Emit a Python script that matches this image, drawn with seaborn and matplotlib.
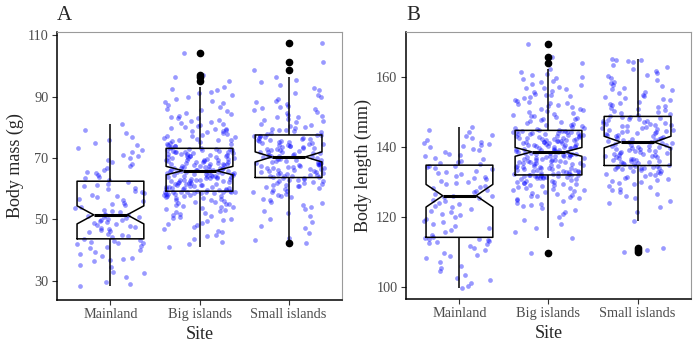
import numpy as np
import pandas as pd
import matplotlib
matplotlib.use("Agg")
import matplotlib.pyplot as plt
import seaborn as sns

sites = ["Mainland", "Big islands", "Small islands"]

mass_mainland = [
    28.4, 28.9, 29.8, 31.2, 32.5, 33.0, 34.6, 35.2, 36.5, 36.8, 37.1, 37.4, 38.0,
    38.9, 39.5, 40.1, 40.6, 41.0, 41.3, 41.9, 42.2, 42.5, 42.8, 43.1, 43.4,
    43.8, 44.3, 44.6, 45.0, 45.4, 45.9, 46.2, 46.6, 47.0, 47.3, 47.5, 47.9, 48.2,
    48.5, 48.8, 49.1, 49.4, 49.7, 49.9, 50.2, 50.5, 50.7, 50.9, 51.2, 51.4,
    51.6, 51.9, 52.3, 52.8, 53.2, 53.7, 54.1, 54.6, 55.0, 55.5, 55.9, 56.3, 56.8,
    57.2, 57.7, 58.1, 58.6, 59.0, 59.4, 59.9, 60.3, 60.8, 61.2, 61.7, 62.3,
    62.9, 63.4, 63.8, 64.5, 65.1, 65.6, 66.2, 66.9, 67.5, 68.0, 68.6, 69.2, 69.9,
    70.5, 71.1, 71.8, 72.6, 73.3, 74.1, 74.9, 75.8, 76.7, 78.2, 79.0, 81.0,
]
mass_big = [
    41.2, 41.9, 42.8, 43.6, 44.5, 45.1, 45.9, 46.4, 47.0, 47.6, 48.1, 48.6, 49.0,
    49.4, 49.8, 50.2, 50.5, 50.9, 51.2, 51.6, 51.9, 52.2, 52.5, 52.8, 53.1, 53.3,
    53.6, 53.9, 54.1, 54.4, 54.6, 54.9, 55.1, 55.4, 55.6, 55.8, 56.1, 56.3, 56.5,
    56.7, 56.9, 57.1, 57.3, 57.5, 57.6, 57.8, 57.9, 58.1, 58.2, 58.3, 58.4, 58.5,
    58.6, 58.7, 58.8, 58.9, 58.9, 59.0, 59.0, 59.1, 59.1, 59.1, 59.15,
    59.35, 59.5, 59.6, 59.7, 59.8, 59.9, 60.0, 60.1, 60.3, 60.4, 60.5, 60.6, 60.7,
    60.9, 61.0, 61.1, 61.2, 61.3, 61.4, 61.6, 61.7, 61.8, 61.9, 62.0, 62.1, 62.3,
    62.4, 62.5, 62.6, 62.7, 62.8, 62.9, 63.0, 63.1, 63.2, 63.4, 63.5, 63.6, 63.7,
    63.8, 63.9, 64.0, 64.1, 64.2, 64.3, 64.4, 64.5, 64.6, 64.7, 64.8, 64.9, 65.0,
    65.1, 65.2, 65.3, 65.4, 65.5, 65.6, 65.7, 65.75, 65.8, 65.85,
    65.95, 66.0, 66.1, 66.2, 66.4, 66.5, 66.6, 66.7, 66.8, 66.9, 67.0, 67.2, 67.3,
    67.4, 67.5, 67.6, 67.7, 67.9, 68.0, 68.1, 68.2, 68.3, 68.5, 68.6, 68.7, 68.8,
    68.9, 69.0, 69.2, 69.3, 69.4, 69.5, 69.6, 69.8, 69.9, 70.0, 70.1, 70.2, 70.4,
    70.5, 70.6, 70.7, 70.8, 71.0, 71.1, 71.2, 71.3, 71.4, 71.6, 71.7, 71.8, 71.9,
    72.0, 72.1, 72.3, 72.4, 72.5, 72.6, 72.7, 72.8, 72.9, 73.0,
    73.2, 73.4, 73.6, 73.8, 74.0, 74.2, 74.5, 74.7, 74.9, 75.2, 75.4, 75.7, 75.9,
    76.0, 76.2, 76.4, 76.7, 77.0, 77.2, 77.5, 77.8, 78.1, 78.4, 78.7, 78.9, 79.0,
    79.3, 79.6, 79.9, 80.0, 80.3, 80.6, 81.0, 81.3, 81.7, 82.1, 82.5, 82.9, 83.0,
    83.3, 83.7, 84.2, 84.7, 85.2, 85.6, 86.1, 86.6, 87.2, 87.8, 88.1, 88.6, 89.2,
    89.9, 90.4, 91.0, 91.6, 92.2, 92.6, 93.0, 95.2, 96.3, 97.1, 104.1,
]
mass_small = [
    42.4, 43.2, 44.0, 45.5, 47.1, 48.0, 49.2, 50.3, 51.1, 52.0, 52.8, 53.5, 54.1,
    54.7, 55.2, 55.8, 56.3, 56.7, 57.2, 57.6, 58.0, 58.4, 58.8, 59.1, 59.4, 59.7,
    60.0, 60.3, 60.6, 60.8, 60.9, 61.1, 61.3, 61.6, 61.8, 62.0, 62.2, 62.4, 62.6,
    62.8, 63.0, 63.2, 63.4, 63.6,
    63.7, 63.9, 64.0, 64.2, 64.3, 64.5, 64.6, 64.8, 64.9, 65.1, 65.2, 65.4, 65.5,
    65.7, 65.8, 66.0, 66.1, 66.3, 66.4, 66.6, 66.7, 66.9, 67.0, 67.2, 67.3, 67.5,
    67.6, 67.8, 67.9, 68.1, 68.2, 68.4, 68.5, 68.7, 68.8, 69.0, 69.1, 69.3, 69.4,
    69.6, 69.8, 70.0, 70.2, 70.35,
    70.5, 70.6, 70.8, 71.0, 71.1, 71.3, 71.5, 71.6, 71.8, 72.0, 72.1, 72.3, 72.5,
    72.6, 72.8, 73.0, 73.1, 73.3, 73.5, 73.6, 73.8, 74.0, 74.1, 74.3, 74.5, 74.6,
    74.8, 75.0, 75.1, 75.3, 75.5, 75.6, 75.8, 76.0, 76.1, 76.3, 76.5, 76.6, 76.8,
    77.0, 77.1, 77.3, 77.4,
    77.6, 77.9, 78.2, 78.5, 78.8, 79.0, 79.1, 79.4, 79.7, 80.0, 80.4, 80.8, 81.2,
    81.6, 82.0, 82.4, 82.8, 83.2, 83.5, 83.7, 84.1, 84.6, 85.0, 85.5, 86.0, 86.2,
    86.5, 87.0, 87.6, 88.2, 88.7, 89.3, 89.9, 90.5, 91.2, 92.0, 92.8, 93.7, 94.6,
    95.5, 96.2, 98.65, 101.35, 107.3,
]
length_mainland = [
    99.6, 100.3, 101.0, 101.9, 102.5, 103.3, 104.6, 105.5, 106.0, 107.1, 108.2,
    108.7, 109.0, 109.8, 110.6, 111.2, 111.8, 112.1, 112.4, 112.9, 113.1, 113.4,
    113.6, 113.8, 114.0,
    114.2, 114.9, 115.6, 116.2, 116.8, 117.3, 117.9, 118.4, 118.9, 119.4, 119.9,
    120.4, 120.9, 121.3, 121.8, 122.3, 122.7, 123.2, 123.6, 124.1, 124.5, 124.9,
    125.3, 125.7, 126.0,
    126.1, 126.6, 127.0, 127.4, 127.8, 128.2, 128.5, 128.9, 129.3, 129.6, 130.0,
    130.4, 130.7, 131.1, 131.5, 131.8, 132.2, 132.5, 132.9, 133.2, 133.6, 133.9,
    134.2, 134.5, 134.7,
    135.1, 135.4, 135.7, 136.1, 136.5, 136.9, 137.3, 137.7, 138.1, 138.6, 139.0,
    139.4, 139.9, 140.3, 140.6, 140.9, 141.2, 141.5, 142.0, 142.6, 143.1, 143.5,
    144.2, 144.9, 145.6,
]
length_big = [
    109.55, 113.85, 115.8, 116.7, 117.9, 119.2, 120.1, 120.9, 121.5, 122.0, 122.5,
    123.0, 123.4, 123.8, 124.1, 124.4, 124.7, 125.0, 125.3, 125.6, 125.9, 126.1,
    126.4, 126.6, 126.9, 127.1, 127.3, 127.6, 127.8, 128.0, 128.2, 128.4, 128.6,
    128.8, 129.0, 129.2, 129.3, 129.5, 129.7, 129.8, 130.0, 130.1, 130.3, 130.4,
    130.6, 130.7, 130.8, 131.0, 131.1, 131.2, 131.3, 131.4, 131.5, 131.6, 131.65,
    131.7, 131.75, 131.8, 131.85, 131.9, 131.9, 131.95, 131.95,
    132.15, 132.3, 132.4, 132.5, 132.6, 132.7, 132.8, 132.9, 133.0, 133.1, 133.2,
    133.3, 133.4, 133.5, 133.6, 133.8, 133.9, 134.0, 134.1, 134.2, 134.3, 134.4,
    134.5, 134.6, 134.7, 134.8, 134.9, 135.0, 135.1, 135.3, 135.4, 135.5, 135.6,
    135.7, 135.8, 135.9, 136.0, 136.1, 136.2, 136.3, 136.4, 136.5, 136.6, 136.8,
    136.9, 137.0, 137.1, 137.2, 137.3, 137.4, 137.5, 137.6, 137.7, 137.8, 137.9,
    138.0, 138.1, 138.2, 138.3, 138.4, 138.5, 138.55,
    138.65, 138.8, 138.9, 139.0, 139.1, 139.2, 139.3, 139.4, 139.5, 139.6, 139.7,
    139.8, 139.9, 140.0, 140.1, 140.2, 140.3, 140.4, 140.5, 140.6, 140.7, 140.8,
    140.9, 141.0, 141.1, 141.2, 141.3, 141.4, 141.5, 141.6, 141.7, 141.8, 141.9,
    142.0, 142.1, 142.2, 142.3, 142.4, 142.5, 142.6, 142.7, 142.8, 142.9, 143.0,
    143.1, 143.2, 143.3, 143.4, 143.5, 143.6, 143.7, 143.8, 143.9, 144.0, 144.1,
    144.2, 144.3, 144.4, 144.45, 144.5, 144.55, 144.6,
    144.8, 145.0, 145.1, 145.3, 145.5, 145.8, 146.0, 146.2, 146.3, 146.6, 146.8,
    147.1, 147.4, 147.7, 147.9, 148.0, 148.3, 148.6, 148.9, 149.0, 149.2, 149.5,
    149.8, 150.1, 150.4, 150.7, 150.9, 151.0, 151.3, 151.6, 151.9, 152.2, 152.5,
    152.7, 152.9, 153.2, 153.5, 153.9, 154.2, 154.6, 154.8, 155.0, 155.3, 155.7,
    156.1, 156.5, 156.9, 157.0, 157.3, 157.7, 158.1, 158.6, 159.0, 159.5, 159.8,
    160.0, 160.5, 161.0, 161.5, 162.3, 164.0, 165.8, 169.6,
]
length_small = [
    110.0, 110.6, 111.2, 118.9, 121.5, 122.8, 123.9, 124.6, 125.3, 126.0, 126.6,
    127.1, 127.6, 128.1, 128.5, 128.9, 129.3, 129.6, 130.0, 130.3, 130.6, 130.9,
    131.2, 131.4, 131.7, 131.9, 132.2, 132.4, 132.6, 132.8, 133.0, 133.2, 133.4,
    133.6, 133.7, 133.9, 134.0, 134.1, 134.2, 134.3, 134.4, 134.5, 134.55, 134.6,
    134.8, 135.0, 135.2, 135.3, 135.5, 135.6, 135.8, 135.9, 136.1, 136.2, 136.4,
    136.5, 136.7, 136.8, 137.0, 137.1, 137.3, 137.4, 137.6, 137.7, 137.9, 138.0,
    138.2, 138.3, 138.5, 138.6, 138.8, 138.9, 139.1, 139.2, 139.4, 139.5, 139.7,
    139.8, 140.0, 140.1, 140.3, 140.4, 140.6, 140.7, 140.9, 141.0, 141.2, 141.4,
    141.5, 141.7, 141.9, 142.0, 142.2, 142.4, 142.5, 142.7, 142.9, 143.0, 143.2,
    143.4, 143.5, 143.7, 143.9, 144.0, 144.2, 144.4, 144.5, 144.7, 144.9, 145.0,
    145.2, 145.4, 145.5, 145.7, 145.9, 146.0, 146.2, 146.4, 146.5, 146.7, 146.9,
    147.0, 147.2, 147.4, 147.5, 147.7, 147.9, 148.1, 148.3, 148.5, 148.7,
    148.8, 149.1, 149.4, 149.7, 150.0, 150.3, 150.6, 150.9, 151.2, 151.5, 151.8,
    152.1, 152.4, 152.7, 153.0, 153.3, 153.6, 153.9, 154.2, 154.6, 155.0, 155.4,
    155.8, 156.2, 156.6, 157.0, 157.4, 157.8, 158.2, 158.7, 159.2, 159.7, 160.2,
    160.7, 161.2, 161.8, 162.4, 163.0, 163.6, 164.2, 164.6, 164.9, 165.0, 165.15,
]

mass_ticks = [30, 50, 70, 90, 110]
length_ticks = [100, 120, 140, 160]
panel_labels = ["A", "B"]
y_titles = ["Body mass (g)", "Body length (mm)"]
x_title = "Site"

sns.set_style("white")
plt.rcParams["font.family"] = ["Liberation Serif", "DejaVu Serif"]


def long_df(groups, name):
    rows = []
    for site, vals in zip(sites, groups):
        for v in vals:
            rows.append((site, v))
    return pd.DataFrame(rows, columns=["Site", name])


mass_df = long_df([mass_mainland, mass_big, mass_small], "mass")
length_df = long_df([length_mainland, length_big, length_small], "length")

fig = plt.figure(figsize=(6.98, 3.5), dpi=100)
axA = fig.add_axes([57 / 698, 50 / 350, 285 / 698, 268 / 350])
axB = fig.add_axes([406 / 698, 51 / 350, 285 / 698, 267 / 350])

np.random.seed(7)
panels = [
    (axA, mass_df, "mass", mass_ticks, (23.8, 111.0), y_titles[0], panel_labels[0], 57),
    (axB, length_df, "length", length_ticks, (96.5, 172.9), y_titles[1], panel_labels[1], 406),
]
for ax, df, col, ticks, ylim, ytitle, plabel, lx in panels:
    sns.stripplot(data=df, x="Site", y=col, order=sites, ax=ax, color="#0000FF",
                  alpha=0.4, size=3.4, jitter=0.4, linewidth=0, zorder=1)
    sns.boxplot(data=df, x="Site", y=col, order=sites, ax=ax, notch=True,
                width=0.75, fill=False, color="black", linecolor="black",
                linewidth=1.1, showcaps=False, whis=1.5,
                flierprops=dict(marker="o", markerfacecolor="black",
                                markeredgecolor="black", markersize=4.5),
                medianprops=dict(color="black", linewidth=2.2))
    ax.set_xlim(-0.6, 2.6)
    ax.set_ylim(*ylim)
    ax.set_yticks(ticks)
    ax.set_xlabel(x_title, fontsize=13, labelpad=3)
    ax.set_ylabel(ytitle, fontsize=13, labelpad=3)
    ax.tick_params(axis="both", which="both", direction="out", length=3.6,
                   width=0.8, color="#333333", labelsize=10.3,
                   labelcolor="#4D4D4D", pad=2.5, left=True, bottom=True)
    for side in ["top", "right"]:
        ax.spines[side].set_color("#9a9a9a")
        ax.spines[side].set_linewidth(0.8)
    for side in ["left", "bottom"]:
        ax.spines[side].set_color("black")
        ax.spines[side].set_linewidth(1.1)
    fig.text(lx / 698, 1 - 20 / 350, plabel, fontsize=15, ha="left", va="baseline")

fig.savefig("out.png", dpi=100)
